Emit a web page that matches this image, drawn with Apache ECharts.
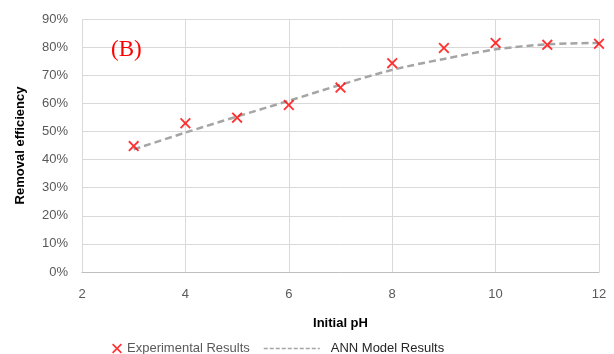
<!DOCTYPE html>
<html>
<head>
<meta charset="utf-8">
<script src="https://cdn.jsdelivr.net/npm/echarts@6/dist/echarts.min.js"></script>
<style>
  html, body { margin: 0; padding: 0; background: #fff; }
  #chart { width: 614px; height: 354px; }
</style>
</head>
<body>
<div id="chart"></div>
<script>
// Initial pH values
const phValues = [3, 4, 5, 6, 7, 8, 9, 10, 11, 12];
// Measured removal efficiency (%)
const experimental = [44.8, 52.9, 54.9, 59.4, 65.6, 74.3, 79.7, 81.5, 80.8, 81.2];
// ANN predicted removal efficiency (%)
const annModel = [43.6, 49.6, 55.3, 60.9, 66.6, 71.9, 75.8, 79.2, 81.0, 81.5];
// Axis ticks
const xTicks = { min: 2, max: 12, interval: 2 };
const yTicks = { min: 0, max: 90, interval: 10 };

const crossPath = 'path://M0,1.2 L1.2,0 L5,3.8 L8.8,0 L10,1.2 L6.2,5 L10,8.8 L8.8,10 L5,6.2 L1.2,10 L0,8.8 L3.8,5 Z';
const font = '"Liberation Sans", Arial, sans-serif';

const chart = echarts.init(document.getElementById('chart'), null, { renderer: 'canvas' });
chart.setOption({
  animation: false,
  backgroundColor: '#ffffff',
  textStyle: { fontFamily: font },
  title: {
    text: '(B)',
    left: 106, top: 33,
    textStyle: { color: '#FF0000', fontFamily: '"Liberation Serif", "Times New Roman", serif', fontSize: 23, fontWeight: 'normal' }
  },
  grid: { left: 82, right: 15, top: 19, bottom: 82, containLabel: false },
  legend: [
    {
      data: [{ name: 'Experimental Results', icon: crossPath }],
      left: 107, top: 337,
      itemWidth: 10, itemHeight: 10, itemGap: 4,
      textStyle: { color: '#595959', fontSize: 13, fontFamily: font }
    },
    {
      data: [{ name: 'ANN Model Results' }],
      left: 258, top: 337,
      itemWidth: 56, itemHeight: 12,
      itemStyle: { opacity: 0 },
      lineStyle: { color: '#A5A5A5', width: 1.5, type: [4, 2] },
      textStyle: { color: '#262626', fontSize: 13, fontFamily: font, padding: [0, 0, 0, 6] }
    }
  ],
  xAxis: {
    type: 'value',
    min: xTicks.min, max: xTicks.max, interval: xTicks.interval,
    name: 'Initial pH',
    nameLocation: 'middle',
    nameGap: 45,
    nameTextStyle: { color: '#000', fontWeight: 'bold', fontSize: 13, fontFamily: font },
    axisLine: { show: true, lineStyle: { color: '#BFBFBF', width: 1 } },
    axisTick: { show: false },
    axisLabel: { color: '#595959', fontSize: 13, margin: 16, fontFamily: font },
    splitLine: { show: true, lineStyle: { color: '#D9D9D9', width: 1 } }
  },
  yAxis: {
    type: 'value',
    min: yTicks.min, max: yTicks.max, interval: yTicks.interval,
    name: 'Removal efficiency',
    nameLocation: 'middle',
    nameGap: 55,
    nameTextStyle: { color: '#000', fontWeight: 'bold', fontSize: 13, fontFamily: font },
    axisLine: { show: false },
    axisTick: { show: false },
    axisLabel: { color: '#595959', fontSize: 13, margin: 14, formatter: '{value}%', fontFamily: font },
    splitLine: { show: true, lineStyle: { color: '#D9D9D9', width: 1 } }
  },
  series: [
    {
      name: 'ANN Model Results',
      type: 'line',
      data: phValues.map((x, i) => [x, annModel[i]]),
      smooth: 0.3,
      showSymbol: false,
      symbol: 'none',
      lineStyle: { color: '#A5A5A5', width: 2.5, type: [7, 4] },
      itemStyle: { color: '#A5A5A5' },
      z: 2
    },
    {
      name: 'Experimental Results',
      type: 'scatter',
      data: phValues.map((x, i) => [x, experimental[i]]),
      symbol: crossPath,
      symbolSize: 11,
      itemStyle: { color: '#FF0000' },
      z: 3
    }
  ]
});
</script>
</body>
</html>
